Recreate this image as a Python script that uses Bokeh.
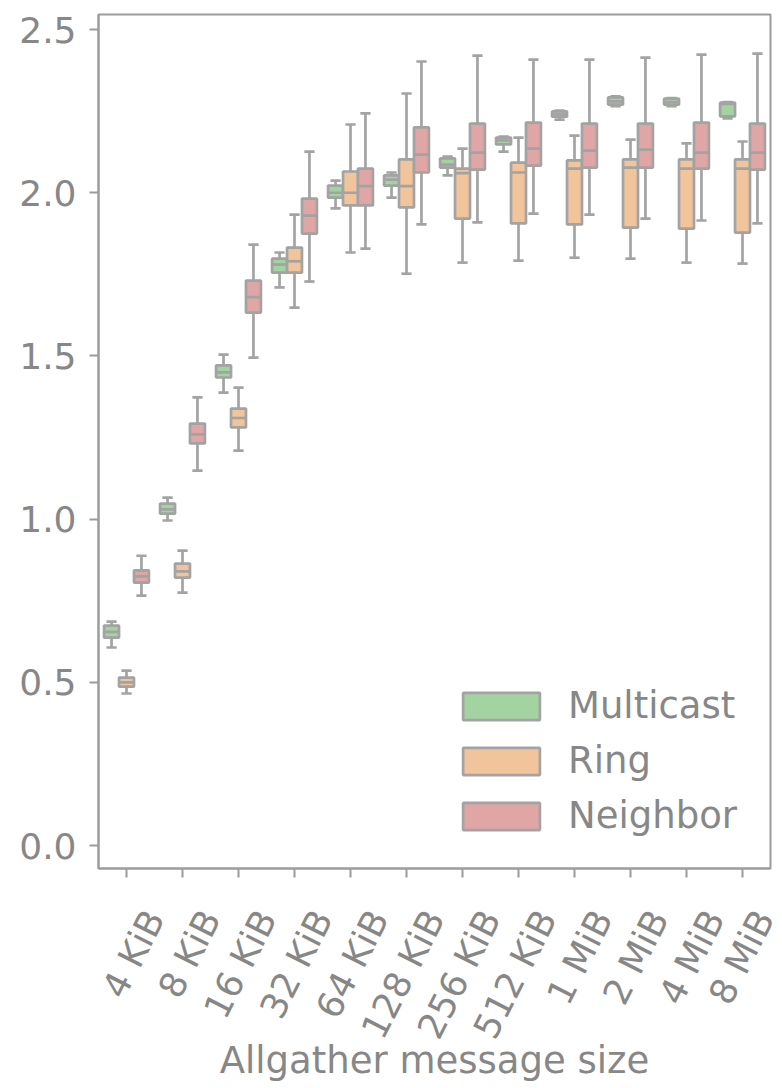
import math
from bokeh.plotting import figure
from bokeh.models import (ColumnDataSource, Range1d, FixedTicker,
                          NumeralTickFormatter, Legend, LegendItem, LinearAxis)
from bokeh.transform import dodge
from bokeh.embed import file_html
from bokeh.resources import INLINE

# ---------------- data ----------------
sizes = ["4 KiB", "8 KiB", "16 KiB", "32 KiB", "64 KiB", "128 KiB",
         "256 KiB", "512 KiB", "1 MiB", "2 MiB", "4 MiB", "8 MiB"]
series_names = ["Multicast", "Ring", "Neighbor"]
y_ticks = [0.0, 0.5, 1.0, 1.5, 2.0, 2.5]

# whisker low, first quartile, median, third quartile, whisker high
multicast_lo  = [0.607, 0.996, 1.388, 1.710, 1.952, 1.985, 2.053, 2.126, 2.224, 2.265, 2.265, 2.228]
multicast_q1  = [0.637, 1.017, 1.434, 1.755, 1.985, 2.022, 2.077, 2.148, 2.233, 2.270, 2.270, 2.234]
multicast_med = [0.655, 1.030, 1.450, 1.780, 2.000, 2.040, 2.086, 2.160, 2.240, 2.280, 2.278, 2.272]
multicast_q3  = [0.674, 1.048, 1.471, 1.798, 2.022, 2.053, 2.105, 2.169, 2.249, 2.292, 2.288, 2.276]
multicast_hi  = [0.686, 1.066, 1.504, 1.817, 2.037, 2.062, 2.111, 2.172, 2.252, 2.295, 2.290, 2.278]

ring_lo  = [0.466, 0.775, 1.210, 1.648, 1.817, 1.752, 1.786, 1.792, 1.801, 1.798, 1.786, 1.783]
ring_q1  = [0.487, 0.821, 1.281, 1.755, 1.961, 1.955, 1.921, 1.906, 1.903, 1.893, 1.890, 1.878]
ring_med = [0.500, 0.840, 1.310, 1.790, 2.000, 2.020, 2.060, 2.062, 2.074, 2.077, 2.074, 2.074]
ring_q3  = [0.515, 0.864, 1.339, 1.832, 2.065, 2.102, 2.074, 2.092, 2.099, 2.102, 2.102, 2.102]
ring_hi  = [0.536, 0.904, 1.403, 1.933, 2.209, 2.304, 2.135, 2.169, 2.175, 2.163, 2.151, 2.157]

neighbor_lo  = [0.766, 1.149, 1.495, 1.728, 1.829, 1.903, 1.909, 1.936, 1.933, 1.921, 1.915, 1.906]
neighbor_q1  = [0.806, 1.232, 1.633, 1.875, 1.961, 2.062, 2.071, 2.083, 2.077, 2.077, 2.074, 2.071]
neighbor_med = [0.825, 1.260, 1.680, 1.930, 2.020, 2.117, 2.123, 2.135, 2.129, 2.132, 2.123, 2.123]
neighbor_q3  = [0.843, 1.293, 1.731, 1.982, 2.074, 2.200, 2.212, 2.215, 2.212, 2.212, 2.215, 2.212]
neighbor_hi  = [0.888, 1.373, 1.841, 2.126, 2.243, 2.402, 2.420, 2.408, 2.408, 2.414, 2.423, 2.426]

series_stats = {
    "Multicast": (multicast_lo, multicast_q1, multicast_med, multicast_q3, multicast_hi),
    "Ring": (ring_lo, ring_q1, ring_med, ring_q3, ring_hi),
    "Neighbor": (neighbor_lo, neighbor_q1, neighbor_med, neighbor_q3, neighbor_hi),
}

# ---------------- style ----------------
FONT = "DejaVu Sans"
TEXT = "#878787"
EDGE = "#a3a3a3"
FRAME = "#9c9c9c"
colors = {"Multicast": "#a3d3a1", "Ring": "#f1c49b", "Neighbor": "#e0a5a5"}
offsets = {"Multicast": -0.267, "Ring": 0.0, "Neighbor": 0.267}
BOX_W = 0.267
CAP_W = 0.134
TICK_FS = "36px"
LABEL_FS = "37px"
LABEL_SHIFT = 0.50   # tick labels sit to the right of their ticks (rotated, centred boxes)

cat_pos = list(range(len(sizes)))   # position of each category on the x scale

p = figure(width=782, height=1088,
           x_range=Range1d(-0.5, len(sizes) - 0.5), y_range=Range1d(-0.07, 2.546),
           output_backend="svg", toolbar_location=None,
           min_border_left=98, min_border_right=12,
           min_border_top=14, min_border_bottom=220)

p.background_fill_color = "white"
p.border_fill_color = "white"
p.outline_line_color = FRAME
p.outline_line_width = 2
p.xgrid.visible = False
p.ygrid.visible = False

items = []
for name in series_names:
    lo, q1, med, q3, hi = series_stats[name]
    src = ColumnDataSource(dict(pos=cat_pos, size=sizes, lo=lo, q1=q1, med=med, q3=q3, hi=hi))
    off = offsets[name]
    p.segment(x0=dodge("pos", off), y0="q3", x1=dodge("pos", off), y1="hi",
              source=src, line_color=EDGE, line_width=2.7)
    p.segment(x0=dodge("pos", off), y0="lo", x1=dodge("pos", off), y1="q1",
              source=src, line_color=EDGE, line_width=2.7)
    p.segment(x0=dodge("pos", off - CAP_W / 2), y0="hi",
              x1=dodge("pos", off + CAP_W / 2), y1="hi",
              source=src, line_color=EDGE, line_width=2.7, line_cap="square")
    p.segment(x0=dodge("pos", off - CAP_W / 2), y0="lo",
              x1=dodge("pos", off + CAP_W / 2), y1="lo",
              source=src, line_color=EDGE, line_width=2.7, line_cap="square")
    box = p.vbar(x=dodge("pos", off), width=BOX_W, bottom="q1", top="q3",
                 source=src, fill_color=colors[name], line_color=EDGE, line_width=2.7)
    p.segment(x0=dodge("pos", off - BOX_W / 2), y0="med",
              x1=dodge("pos", off + BOX_W / 2), y1="med",
              source=src, line_color=EDGE, line_width=2.7)
    items.append(LegendItem(label=name, renderers=[box]))

# ---------------- axes ----------------
p.yaxis.ticker = FixedTicker(ticks=y_ticks)
p.yaxis.formatter = NumeralTickFormatter(format="0.0")
p.xaxis.ticker = FixedTicker(ticks=cat_pos)
for ax in (p.xaxis[0], p.yaxis[0]):
    ax.axis_line_color = FRAME
    ax.axis_line_width = 2
    ax.major_tick_line_color = FRAME
    ax.major_tick_line_width = 2
    ax.major_tick_out = 9
    ax.major_tick_in = 0
    ax.minor_tick_line_color = None
    ax.major_label_text_font = FONT
    ax.major_label_text_font_size = TICK_FS
    ax.major_label_text_color = TEXT
p.yaxis.major_label_standoff = 13

# main x axis: tick marks only
p.xaxis.major_label_overrides = {v: " " for v in cat_pos}
p.xaxis.major_label_text_font_size = "1px"
p.xaxis.major_label_standoff = 0

# label axis: same pixel scale, shifted so each rotated label box is centred like the reference
p.extra_x_ranges = {"labels": Range1d(-0.5 - LABEL_SHIFT, len(sizes) - 0.5 - LABEL_SHIFT)}
lab_axis = LinearAxis(x_range_name="labels", ticker=FixedTicker(ticks=cat_pos),
                      major_label_overrides={v: s for v, s in zip(cat_pos, sizes)},
                      major_label_orientation=math.radians(63),
                      major_label_standoff=25,
                      major_label_text_font=FONT, major_label_text_font_size=TICK_FS,
                      major_label_text_color=TEXT,
                      axis_line_color=None, major_tick_line_color=None,
                      minor_tick_line_color=None,
                      axis_label="Allgather message size", axis_label_standoff=-18,
                      axis_label_text_font=FONT, axis_label_text_font_size=LABEL_FS,
                      axis_label_text_color=TEXT, axis_label_text_font_style="normal")
p.add_layout(lab_axis, "below")

legend = Legend(items=items, location=(355, 31), orientation="vertical",
                glyph_width=96, glyph_height=34, label_height=27,
                label_standoff=19, spacing=12, padding=0, margin=0,
                label_text_font=FONT, label_text_font_size=LABEL_FS,
                label_text_color=TEXT, border_line_alpha=0,
                background_fill_alpha=0)
p.add_layout(legend)

open("out.html", "w").write(file_html(p, INLINE))
